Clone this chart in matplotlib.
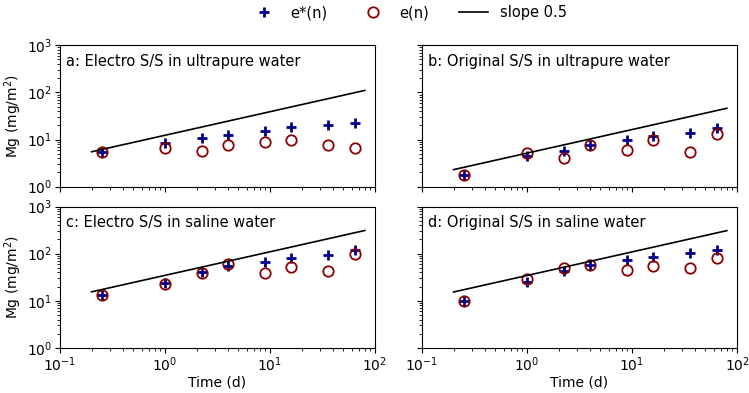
import matplotlib as mpl
mpl.use('Agg')
import matplotlib.pyplot as plt
import numpy as np

# sampling times (d)
t = [0.25, 1, 2.25, 4, 9, 16, 36, 64]

titles = ['a: Electro S/S in ultrapure water', 'b: Original S/S in ultrapure water',
          'c: Electro S/S in saline water', 'd: Original S/S in saline water']

# e*(n), cumulative leached Mg (mg/m2)
estar_a = [5.4, 8.6, 10.7, 12.6, 15.4, 18.1, 20.8, 22.8]
estar_b = [1.75, 4.5, 5.7, 7.7, 9.7, 11.8, 13.7, 17.3]
estar_c = [13, 24, 40, 54, 67, 80, 93, 118]
estar_d = [9.8, 25, 42, 58, 72, 83, 103, 122]

# e(n)
e_a = [5.4, 6.6, 5.7, 7.7, 8.7, 10, 7.7, 6.6]
e_b = [1.75, 5.2, 4.1, 7.7, 5.9, 9.9, 5.5, 13.3]
e_c = [13, 23, 39, 60, 38, 51, 42, 98]
e_d = [9.8, 29, 49, 57, 45, 55, 50, 81]

# slope 0.5 reference lines: value at t = 0.2 d
line_t = [0.2, 80]
line_start = [5.5, 2.3, 15.5, 15.4]

estar = [estar_a, estar_b, estar_c, estar_d]
e = [e_a, e_b, e_c, e_d]

mpl.rc('xtick.major', pad=2)
mpl.rc('ytick.major', pad=2)

fig, axes = plt.subplots(2, 2, figsize=(7.49, 3.93), dpi=100, sharex=True, sharey=True)
fig.subplots_adjust(left=0.080, right=0.984, bottom=0.1145, top=0.885, wspace=0.149, hspace=0.14)

for i, ax in enumerate(axes.flat):
    ax.plot(t, estar[i], '+', color='darkblue', ms=7, mew=2, label='e*(n)')
    ax.plot(t, e[i], 'o', mfc='none', mec='darkred', ms=7.5, mew=1.3, label='e(n)')
    lt = np.array(line_t)
    ax.plot(lt, line_start[i] * np.sqrt(lt / line_t[0]), 'k-', lw=1.2, label='slope 0.5')
    ax.set_xscale('log')
    ax.set_yscale('log')
    ax.set_xlim(0.1, 100)
    ax.set_ylim(1, 1000)
    ax.text(0.018, 0.94, titles[i], transform=ax.transAxes, ha='left', va='top', fontsize=10.5)

for ax in axes[:, 0]:
    ax.set_ylabel('Mg (mg/m$^2$)', labelpad=2)
for ax in axes[1, :]:
    ax.set_xlabel('Time (d)', labelpad=1)

handles, labels = axes[0, 0].get_legend_handles_labels()
fig.legend(handles, labels, loc='upper center', ncol=3, frameon=False,
           bbox_to_anchor=(0.545, 1.02), fontsize=10.5, columnspacing=2.1)

fig.savefig('out.png')
